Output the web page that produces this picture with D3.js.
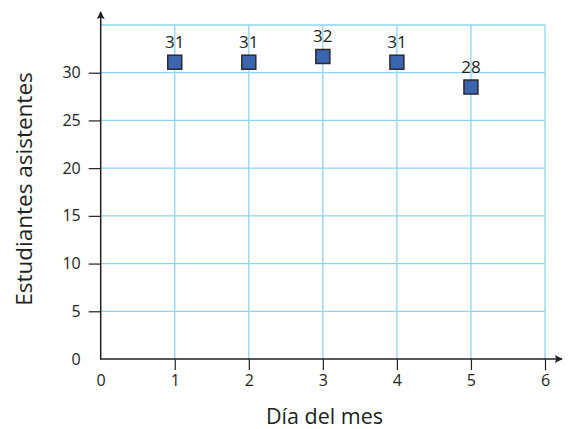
<!DOCTYPE html>
<html><head><meta charset="utf-8">
<script src="https://cdn.jsdelivr.net/npm/d3@7"></script>
<style>body{margin:0;background:#fff}svg{display:block}text{font-family:"Open Sans",sans-serif;fill:#231f20}</style>
</head><body>
<svg id="c" width="569" height="429"></svg>
<script>
const days = [1, 2, 3, 4, 5];
const students = [31.1, 31.1, 31.7, 31.1, 28.5];
const pointLabels = ["31", "31", "32", "31", "28"];
const xTicks = [0, 1, 2, 3, 4, 5, 6];
const yTicks = [0, 5, 10, 15, 20, 25, 30];
const yGrid = [5, 10, 15, 20, 25, 30, 35];
const xTitle = "Día del mes";
const yTitle = "Estudiantes asistentes";

const svg = d3.select("#c");
const x = d3.scaleLinear().domain([0, 6]).range([100.7, 545]);
const y = d3.scaleLinear().domain([0, 35]).range([359, 25]);
const grid = "#8dd5f2", ink = "#231f20";

// grid
svg.append("g").selectAll("line").data(yGrid).join("line")
  .attr("x1", x(0)).attr("x2", x(6)).attr("y1", d => y(d)).attr("y2", d => y(d))
  .attr("stroke", grid).attr("stroke-width", 1.3);
svg.append("g").selectAll("line").data(xTicks.slice(1)).join("line")
  .attr("x1", d => x(d)).attr("x2", d => x(d)).attr("y1", y(0)).attr("y2", y(35))
  .attr("stroke", grid).attr("stroke-width", 1.3);

// x axis
const xa = svg.append("g").attr("transform", `translate(0,${y(0)})`)
  .call(d3.axisBottom(x).tickValues(xTicks).tickSize(11).tickPadding(5).tickFormat(d3.format("d")));
xa.select(".domain").remove();
xa.selectAll(".tick line").attr("stroke", ink).attr("stroke-width", 1.2).filter(d => d === 0).remove();
xa.selectAll(".tick text").attr("font-size", 16).attr("fill", ink).attr("font-family", "Open Sans").attr("dy", "0.71em");
xa.selectAll(".tick").filter(d => d === 0).select("text").attr("y", 16);

// y axis
const ya = svg.append("g").attr("transform", `translate(${x(0)},0)`)
  .call(d3.axisLeft(y).tickValues(yTicks).tickSize(12).tickPadding(8).tickFormat(d3.format("d")));
ya.select(".domain").remove();
ya.selectAll(".tick line").attr("stroke", ink).attr("stroke-width", 1.2).filter(d => d === 0).remove();
ya.selectAll(".tick text").attr("font-size", 16).attr("fill", ink).attr("font-family", "Open Sans");

// axis lines with arrows
svg.append("defs").append("marker").attr("id", "ar").attr("viewBox", "0 0 10 10")
  .attr("refX", 9).attr("refY", 5).attr("markerWidth", 10).attr("markerHeight", 8)
  .attr("markerUnits", "userSpaceOnUse").attr("orient", "auto")
  .append("path").attr("d", "M0,0 L10,5 L0,10 L2,5 Z").attr("fill", ink);
svg.append("line").attr("x1", x(0)).attr("x2", x(0)).attr("y1", y(0) + 0.6).attr("y2", 12)
  .attr("stroke", ink).attr("stroke-width", 1.5).attr("marker-end", "url(#ar)");
svg.append("line").attr("x1", x(0) - 0.6).attr("x2", 562).attr("y1", y(0)).attr("y2", y(0))
  .attr("stroke", ink).attr("stroke-width", 1.5).attr("marker-end", "url(#ar)");

// points
const s = 14;
svg.append("g").selectAll("rect").data(days).join("rect")
  .attr("x", (d, i) => x(d) - s / 2).attr("y", (d, i) => y(students[i]) - s / 2)
  .attr("width", s).attr("height", s)
  .attr("fill", "#3b65b1").attr("stroke", "#2b2b2b").attr("stroke-width", 1.5);
svg.append("g").selectAll("text").data(days).join("text")
  .attr("x", d => x(d)).attr("y", (d, i) => y(students[i]) - 14)
  .attr("text-anchor", "middle").attr("font-size", 17).text((d, i) => pointLabels[i]);

// titles
svg.append("text").attr("x", 324.5).attr("y", 423.5).attr("text-anchor", "middle")
  .attr("font-family", "Liberation Sans").attr("font-size", 21.5).text(xTitle);
svg.append("text").attr("transform", "translate(31.5,189) rotate(-90)").attr("text-anchor", "middle")
  .attr("font-family", "Liberation Sans").attr("font-size", 22.5).text(yTitle);
</script>
</body></html>
